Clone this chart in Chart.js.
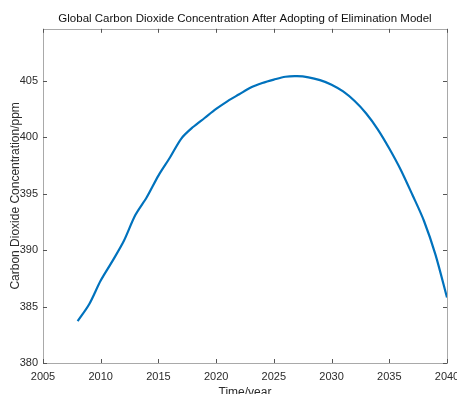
<!DOCTYPE html>
<html>
<head>
<meta charset="utf-8">
<script src="https://cdn.jsdelivr.net/npm/chart.js@4/dist/chart.umd.min.js"></script>
<style>
  html, body { margin: 0; padding: 0; background: #fff; }
  #c { display: block; }
</style>
</head>
<body>
<canvas id="c" width="457" height="394"></canvas>
<script>
// ---- data ----
const years = [2008, 2009, 2010, 2011, 2012, 2013, 2014, 2015, 2016, 2017, 2018, 2019, 2020,
               2021, 2022, 2023, 2024, 2025, 2026, 2027, 2028, 2029, 2030, 2031, 2032, 2033,
               2034, 2035, 2036, 2037, 2038, 2039, 2040];
const co2ppm = [383.7, 385.2, 387.3, 389.0, 390.8, 393.1, 394.7, 396.6, 398.2, 399.9, 400.9, 401.7, 402.5,
                403.2, 403.8, 404.4, 404.8, 405.1, 405.35, 405.4, 405.3, 405.05, 404.65, 404.05, 403.2, 402.1,
                400.7, 399.0, 397.1, 394.9, 392.6, 389.6, 385.8];
const xTicks = [2005, 2010, 2015, 2020, 2025, 2030, 2035, 2040];
const yTicks = [380, 385, 390, 395, 400, 405];
const yMin = 380, yMax = 409.6;
const titleText = 'Global Carbon Dioxide Concentration After Adopting of Elimination Model';
const xTitle = 'Time/year';
const yTitle = 'Carbon Dioxide Concentration/ppm';

const FONT = 'Liberation Sans, Arial, Helvetica, sans-serif';
const BOX = '#a9a9a9';
const TXT = '#2b2b2b';

// box + inward tick marks (MATLAB style)
const boxPlugin = {
  id: 'boxTicks',
  afterDatasetsDraw(chart) {
    const {ctx, chartArea: a, scales: {x, y}} = chart;
    ctx.save();
    ctx.strokeStyle = BOX;
    ctx.lineWidth = 1;
    ctx.strokeRect(Math.round(a.left) + 0.5, Math.round(a.top) + 0.5,
                   Math.round(a.right - a.left), Math.round(a.bottom - a.top));
    ctx.strokeStyle = '#555';
    const L = 4;
    ctx.beginPath();
    x.ticks.forEach(t => {
      const px = Math.round(x.getPixelForValue(t.value)) + 0.5;
      ctx.moveTo(px, a.bottom); ctx.lineTo(px, a.bottom - L);
      ctx.moveTo(px, a.top); ctx.lineTo(px, a.top + L);
    });
    y.ticks.forEach(t => {
      const py = Math.round(y.getPixelForValue(t.value)) + 0.5;
      ctx.moveTo(a.left, py); ctx.lineTo(a.left + L, py);
      ctx.moveTo(a.right, py); ctx.lineTo(a.right - L, py);
    });
    ctx.stroke();
    ctx.restore();
  }
};

new Chart(document.getElementById('c'), {
  type: 'line',
  data: {
    datasets: [{
      data: years.map((yr, i) => ({x: yr, y: co2ppm[i]})),
      borderColor: '#0072BD',
      borderWidth: 2.2,
      pointRadius: 0,
      tension: 0.3,
      fill: false
    }]
  },
  options: {
    responsive: false,
    animation: false,
    devicePixelRatio: 1,
    layout: { padding: { left: 0, right: 10, top: 0, bottom: 0 } },
    plugins: {
      legend: { display: false },
      tooltip: { enabled: false },
      title: {
        display: true,
        fullSize: false,
        text: titleText,
        color: '#111',
        font: { family: FONT, size: 11.5, weight: 'normal' },
        padding: { top: 12, bottom: 3 }
      }
    },
    scales: {
      x: {
        type: 'linear',
        min: 2005, max: 2040,
        afterBuildTicks: s => { s.ticks = xTicks.map(v => ({value: v})); },
        afterFit: s => { s.height = 31; s.paddingLeft = 0; s.paddingRight = 0; },
        grid: { display: false, drawTicks: false },
        border: { display: false },
        ticks: {
          color: TXT, padding: 7, maxRotation: 0, autoSkip: false,
          font: { family: FONT, size: 11 },
          callback: v => String(v)
        },
        title: {
          display: true, text: xTitle, color: TXT,
          font: { family: FONT, size: 12 },
          padding: { top: 0, bottom: -6 }
        }
      },
      y: {
        type: 'linear',
        min: yMin, max: yMax,
        afterBuildTicks: s => { s.ticks = yTicks.map(v => ({value: v})); },
        afterFit: s => { s.width = 43; s.paddingTop = 0; s.paddingBottom = 0; },
        grid: { display: false, drawTicks: false },
        border: { display: false },
        ticks: {
          color: TXT, padding: 5, autoSkip: false,
          font: { family: FONT, size: 11 },
          callback: v => String(v)
        },
        title: {
          display: true, text: yTitle, color: TXT,
          font: { family: FONT, size: 12 },
          padding: { top: 8, bottom: 0 }
        }
      }
    }
  },
  plugins: [boxPlugin]
});
</script>
</body>
</html>
